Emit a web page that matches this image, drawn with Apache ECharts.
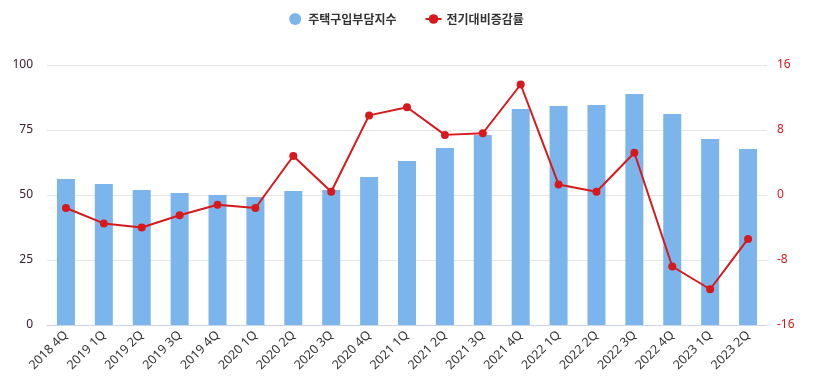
<!DOCTYPE html>
<html><head><meta charset="utf-8">
<script src="https://cdn.jsdelivr.net/npm/echarts@6/dist/echarts.min.js"></script>
<style>html,body{margin:0;padding:0;background:#fff}#c{width:813px;height:392px}</style>
</head><body><div id="c"></div>
<script>
const categories = ['2018 4Q','2019 1Q','2019 2Q','2019 3Q','2019 4Q','2020 1Q','2020 2Q','2020 3Q','2020 4Q','2021 1Q','2021 2Q','2021 3Q','2021 4Q','2022 1Q','2022 2Q','2022 3Q','2022 4Q','2023 1Q','2023 2Q'];
const indexValues = [56.2,54.2,51.9,50.8,50.0,49.2,51.5,51.9,56.9,63.1,68.1,73.1,83.1,84.2,84.6,88.8,81.2,71.5,67.7];
const changeValues = [-1.6,-3.5,-4.0,-2.5,-1.2,-1.6,4.8,0.4,9.8,10.8,7.4,7.6,13.6,1.3,0.4,5.2,-8.8,-11.6,-5.4];
const leftTicks = {min:0,max:100,interval:25};
const rightTicks = {min:-16,max:16,interval:8};
const seriesNames = ['주택구입부담지수','전기대비증감률'];

const font = '"Noto Sans CJK KR","Noto Sans",sans-serif';
const latin = '"Noto Sans","Open Sans",sans-serif';
const chart = echarts.init(document.getElementById('c'));
chart.setOption({
  animation:false,
  textStyle:{fontFamily:font},
  legend:{
    top:8, left:'center', itemGap:28,
    textStyle:{fontSize:12,color:'#333',fontWeight:'bold',fontFamily:font},
    data:[{name:seriesNames[0],icon:'circle'},{name:seriesNames[1]}],
    itemWidth:16,itemHeight:12
  },
  grid:{left:47,right:46,top:65,bottom:67},
  xAxis:{
    type:'category',data:categories,
    axisLine:{lineStyle:{color:'#ccd6eb'}},
    axisTick:{show:false},
    axisLabel:{rotate:45,color:'#333',fontSize:12.5,margin:8,interval:0,fontFamily:latin}
  },
  yAxis:[{
    type:'value',min:leftTicks.min,max:leftTicks.max,interval:leftTicks.interval,
    axisLine:{show:false},axisTick:{show:false},
    splitLine:{lineStyle:{color:'#e6e6e6'}},
    axisLabel:{color:'#3a2030',fontSize:12,margin:14,fontFamily:latin}
  },{
    type:'value',min:rightTicks.min,max:rightTicks.max,interval:rightTicks.interval,
    axisLine:{show:false},axisTick:{show:false},
    splitLine:{show:false},
    axisLabel:{color:'#d7191c',fontSize:12,margin:10,fontFamily:latin}
  }],
  series:[{
    name:seriesNames[0],type:'bar',data:indexValues,barWidth:18,
    itemStyle:{color:'#7cb5ec'}
  },{
    name:seriesNames[1],type:'line',yAxisIndex:1,data:changeValues,
    symbol:'circle',symbolSize:8,
    lineStyle:{color:'#d7191c',width:2},
    itemStyle:{color:'#d7191c'}
  }]
});
</script></body></html>
